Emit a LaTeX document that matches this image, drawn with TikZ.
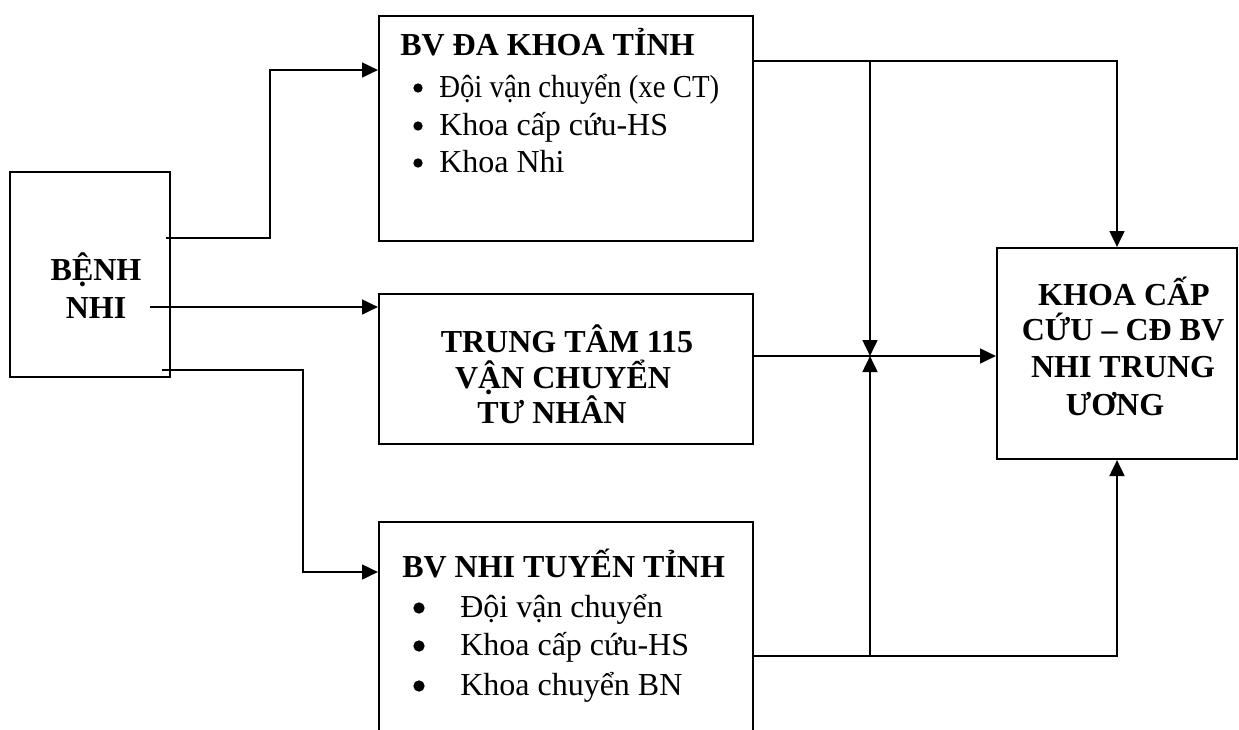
\documentclass[tikz,border=0pt]{standalone}
\usepackage{fontspec}
\setmainfont{Liberation Serif}
\usetikzlibrary{arrows.meta,calc}

\begin{document}
\begin{tikzpicture}[
  x=0.75pt, y=-0.75pt,
  box/.style={rectangle, draw, line width=1.5pt, inner sep=0pt},
  arrow/.style={-{Triangle[length=12pt,width=11pt]}, line width=2pt},
  head/.style={font=\fontsize{24pt}{28pt}\selectfont\bfseries, anchor=base, inner sep=0pt},
  item/.style={font=\fontsize{24pt}{28pt}\selectfont, anchor=base west, inner sep=0pt},
  dot/.style={circle, fill, inner sep=0pt, minimum size=#1},
]
\useasboundingbox (0,0) rectangle (1239,729);
\clip (0,0) rectangle (1239,729);

% === Boxes ===
\node[box, minimum width=120pt, minimum height=153.75pt] (bn) at (90,274.5) {};
\node[box, minimum width=280.5pt, minimum height=168.75pt] (dk) at (566,128.5) {};
\node[box, minimum width=280.5pt, minimum height=112.5pt] (tt) at (566,369) {};
\node[box, minimum width=280.5pt, minimum height=180pt] (nt) at (566,642) {};
\node[box, minimum width=180pt, minimum height=158.25pt] (kc) at (1117,353.5) {};

% === Texts ===
\foreach \t/\y [count=\i] in {BỆNH/280, NHI/318}
  \node[head] (bnt\i) at (96,\y) {\t};

\node[head, anchor=base west] (dkt) at (400,55) {BV ĐA KHOA TỈNH};
\foreach \t/\y [count=\i] in {\scalebox{0.9}[1]{Đội vận chuyển (xe CT)}/97, Khoa cấp cứu-HS/135, Khoa Nhi/172} {
  \node[dot=7pt] (dkb\i) at (418,\y-9) {};
  \node[item] (dki\i) at (439,\y) {\t};
}

\foreach \t/\x/\y [count=\i] in {TRUNG TÂM 115/567/352, VẬN CHUYỂN/563/388, TƯ NHÂN/552/423}
  \node[head] (ttt\i) at (\x,\y) {\t};

\node[head, anchor=base west] (ntt) at (402,577) {BV NHI TUYẾN TỈNH};
\foreach \t/\y [count=\i] in {Đội vận chuyển/617, Khoa cấp cứu-HS/655, Khoa chuyển BN/695} {
  \node[dot=8.5pt] (ntb\i) at (419,\y-9) {};
  \node[item] (nti\i) at (460,\y) {\t};
}

\foreach \t/\x/\y [count=\i] in {KHOA CẤP/1124/305, CỨU – CĐ BV/1123/340, NHI TRUNG/1123/377, ƯƠNG/1115/415}
  \node[head] (kct\i) at (\x,\y) {\t};

% === Connectors ===
\coordinate (jt) at (870,61);
\coordinate (jn) at (870,356);
\coordinate (jb) at (870,656);

\draw[arrow] ($(bn.east)+(-5,-36.5)$) -| (270,70) -- ($(dk.west)+(0,-58.5)$);
\draw[arrow] ($(bn.east)+(-21,32.5)$) -- ($(tt.west)+(0,-62)$);
\draw[arrow] ($(bn.east)+(-9,95.5)$) -| (303,572) -- ($(nt.west)+(0,-70)$);

\draw[arrow] ($(dk.east)+(0,-67.5)$) -| (kc.north);
\draw[arrow] ($(tt.east)+(0,-13)$) -- (kc.west |- jn);
\draw[arrow] ($(nt.east)+(0,14)$) -| (kc.south);
\draw[arrow] (jt) -- (jn);
\draw[arrow] (jb) -- (jn);

\end{tikzpicture}
\end{document}
